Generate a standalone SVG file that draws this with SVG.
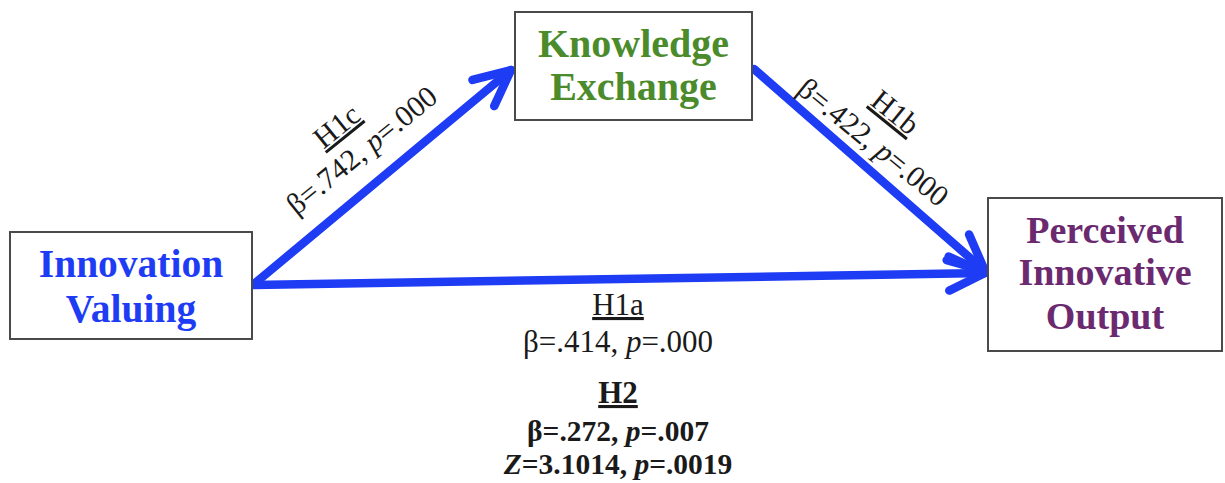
<svg xmlns="http://www.w3.org/2000/svg" width="1225" height="483" viewBox="0 0 1225 483">
  <style>
    .box { fill: #ffffff; stroke: #4a4a4a; stroke-width: 2; }
    .node { font-family: "Liberation Serif", "Times New Roman", serif; font-weight: bold; text-anchor: middle; }
    .lbl { font-family: "Liberation Serif", "Times New Roman", serif; font-size: 31px; fill: #1a1a1a; text-anchor: middle; }
    .rl { font-size: 30px; }
    .sm { font-size: 29.5px; }
    .conn { fill: none; stroke: #1f3cf5; stroke-width: 8.5; stroke-linecap: round; stroke-linejoin: round; }
    .u { text-decoration: underline; }
    .i { font-style: italic; }
  </style>
  <defs>
    <marker id="chev" markerUnits="userSpaceOnUse" viewBox="-50 -30 60 60" refX="0" refY="0" markerWidth="60" markerHeight="60" orient="auto" overflow="visible">
      <path d="M-36,-17 L0,0 L-36,17" fill="none" stroke="#1f3cf5" stroke-width="8.5" stroke-linecap="round" stroke-linejoin="round"/>
    </marker>
  </defs>
  <rect width="1225" height="483" fill="#ffffff"/>

  <g id="connectors">
    <path class="conn" d="M254,284 L511,70" marker-end="url(#chev)"/>
    <path class="conn" d="M754,69 L985,271" marker-end="url(#chev)"/>
    <path class="conn" d="M254,285 L985,273" marker-end="url(#chev)"/>
  </g>

  <g id="node-innovation-valuing">
    <rect class="box" x="10" y="232" width="242" height="107"/>
    <text class="node" font-size="39.5" fill="#1f3cf5" x="131" y="277">Innovation</text>
    <text class="node" font-size="39.5" fill="#1f3cf5" x="131" y="322">Valuing</text>
  </g>

  <g id="node-knowledge-exchange">
    <rect class="box" x="515" y="12" width="237" height="108"/>
    <text class="node" font-size="40" fill="#4b8b2b" x="633.5" y="57">Knowledge</text>
    <text class="node" font-size="40" fill="#4b8b2b" x="633.5" y="100">Exchange</text>
  </g>

  <g id="node-perceived-innovative-output">
    <rect class="box" x="988" y="198" width="234" height="153"/>
    <text class="node" font-size="38" fill="#6b2a70" x="1105" y="243">Perceived</text>
    <text class="node" font-size="38" fill="#6b2a70" x="1105" y="285">Innovative</text>
    <text class="node" font-size="38" fill="#6b2a70" x="1105" y="329">Output</text>
  </g>

  <g id="label-h1c" transform="translate(343,134) rotate(-39)">
    <text class="lbl rl u" x="0" y="0">H1c</text>
  </g>
  <g id="label-h1c-stats" transform="translate(368,158) rotate(-39)">
    <text class="lbl rl" x="0" y="0">β=.742, <tspan class="i">p</tspan>=.000</text>
  </g>

  <g id="label-h1b" transform="translate(889,120) rotate(39)">
    <text class="lbl rl u" x="0" y="0">H1b</text>
  </g>
  <g id="label-h1b-stats" transform="translate(867,150) rotate(39)">
    <text class="lbl rl" x="0" y="0">β=.422, <tspan class="i">p</tspan>=.000</text>
  </g>

  <g id="label-h1a">
    <text class="lbl u" x="618" y="315">H1a</text>
    <text class="lbl" x="618" y="352">β=.414, <tspan class="i">p</tspan>=.000</text>
  </g>

  <g id="label-h2">
    <text class="lbl u" x="618" y="403" font-weight="bold">H2</text>
    <text class="lbl sm" x="618" y="441" font-weight="bold">β=.272, <tspan class="i">p</tspan>=.007</text>
    <text class="lbl sm" x="618" y="474" font-weight="bold"><tspan class="i">Z</tspan>=3.1014, <tspan class="i">p</tspan>=.0019</text>
  </g>
</svg>
